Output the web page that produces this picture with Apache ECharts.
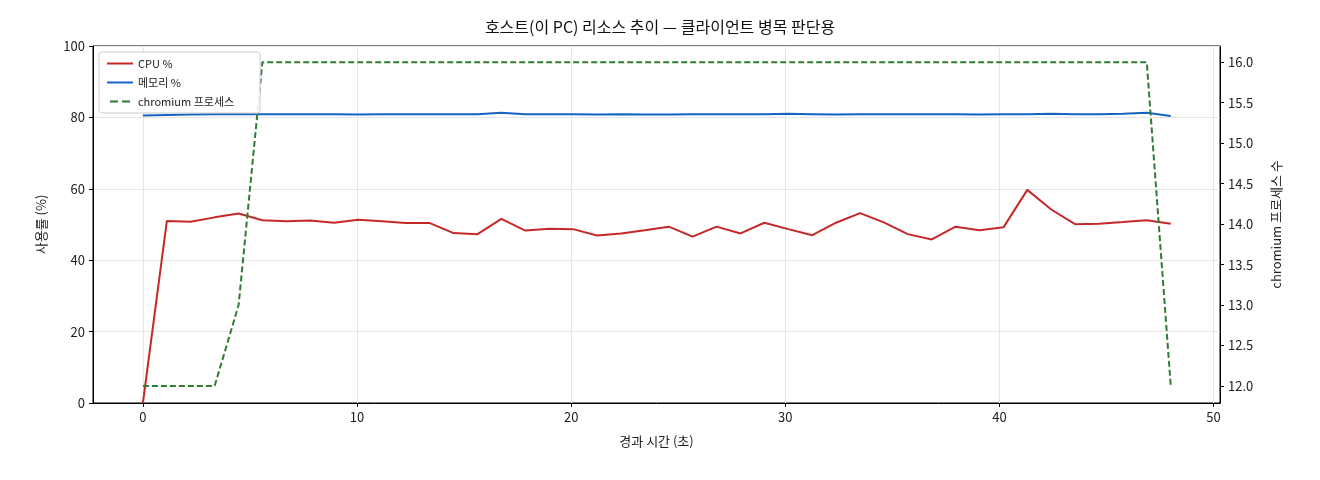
<!DOCTYPE html><html><head><meta charset="utf-8"><script src="https://cdn.jsdelivr.net/npm/echarts@6/dist/echarts.min.js"></script></head><body style="margin:0"><div id="c" style="width:1320px;height:480px"></div><script>
const times=[0,1.12,2.23,3.35,4.47,5.58,6.70,7.81,8.93,10.05,11.16,12.28,13.40,14.51,15.63,16.74,17.86,18.98,20.09,21.21,22.33,23.44,24.56,25.67,26.79,27.91,29.02,30.14,31.26,32.37,33.49,34.60,35.72,36.84,37.95,39.07,40.19,41.30,42.42,43.53,44.65,45.77,46.88,48.00];
const cpu=[0,51.0,50.8,52.0,53.1,51.2,50.9,51.1,50.5,51.3,50.9,50.4,50.4,47.6,47.3,51.6,48.3,48.8,48.7,46.9,47.5,48.4,49.4,46.6,49.4,47.5,50.5,48.7,47.0,50.5,53.2,50.6,47.3,45.8,49.4,48.4,49.2,59.7,54.2,50.1,50.2,50.7,51.2,50.2];
const mem=[80.5,80.7,80.8,80.9,80.9,80.9,80.9,80.9,80.9,80.8,80.9,80.9,80.9,80.9,80.9,81.3,80.9,80.9,80.9,80.8,80.9,80.8,80.8,80.9,80.9,80.9,80.9,81.0,80.9,80.8,80.9,80.9,80.9,80.9,80.9,80.8,80.9,80.9,81.0,80.9,80.9,81.0,81.3,80.4];
const chrom=[12,12,12,12,13,16,16,16,16,16,16,16,16,16,16,16,16,16,16,16,16,16,16,16,16,16,16,16,16,16,16,16,16,16,16,16,16,16,16,16,16,16,16,12];
const xTicks=[0,10,20,30,40,50];
const rTicks=[12,12.5,13,13.5,14,14.5,15,15.5,16];
const pair=a=>times.map((t,i)=>[t,a[i]]);
const F='"Noto Sans CJK KR","DejaVu Sans",sans-serif';
const ax={axisLine:{lineStyle:{color:'#000'}},axisTick:{lineStyle:{color:'#000'},length:4},axisLabel:{color:'#222',fontSize:13,fontFamily:F},nameTextStyle:{color:'#222',fontSize:13,fontFamily:F}};
echarts.init(document.getElementById('c')).setOption({
animation:false,
title:{text:'호스트(이 PC) 리소스 추이 — 클라이언트 병목 판단용',left:'center',top:14,textStyle:{fontSize:16,fontWeight:'normal',color:'#111',fontFamily:F}},
grid:{left:93,right:100,top:46,bottom:77,show:true,borderColor:'#000',borderWidth:1},
legend:{left:99,top:52,orient:'vertical',itemGap:8,itemWidth:26,itemHeight:2,backgroundColor:'rgba(255,255,255,0.9)',borderColor:'#ccc',borderWidth:1,borderRadius:3,padding:[6,26,6,8],textStyle:{fontSize:11,fontFamily:F,color:'#222'},data:[{name:'CPU %',icon:'rect'},{name:'메모리 %',icon:'rect'},{name:'chromium 프로세스',icon:'path://M0,0H8V2H0Z M12,0H20V2H12Z'}]},
xAxis:Object.assign({},ax,{type:'value',min:-2.33,max:50.3,name:'경과 시간 (초)',nameLocation:'middle',nameGap:32,axisLine:{onZero:false,lineStyle:{color:'#000'}},axisTick:{lineStyle:{color:'#000'},length:4,customValues:xTicks},axisLabel:Object.assign({},ax.axisLabel,{customValues:xTicks}),splitLine:{show:true,lineStyle:{color:'#e6e6e6'}}}),
yAxis:[Object.assign({},ax,{type:'value',min:0,max:100,interval:20,name:'사용률 (%)',nameLocation:'middle',nameGap:45,axisLine:{show:true,onZero:false,lineStyle:{color:'#000'}},axisTick:{show:true,length:4,lineStyle:{color:'#000'}},splitLine:{lineStyle:{color:'#e6e6e6'}}}),
Object.assign({},ax,{type:'value',min:11.79,max:16.2,name:'chromium 프로세스 수',nameLocation:'middle',nameGap:50,nameRotate:90,axisLine:{show:true,onZero:false,lineStyle:{color:'#000'}},axisTick:{show:true,length:4,lineStyle:{color:'#000'},customValues:rTicks},axisLabel:Object.assign({},ax.axisLabel,{customValues:rTicks,formatter:v=>v.toFixed(1)}),splitLine:{show:false}})],
series:[
{name:'CPU %',type:'line',data:pair(cpu),symbol:'none',lineStyle:{color:'#c62828',width:2},itemStyle:{color:'#c62828'}},
{name:'메모리 %',type:'line',data:pair(mem),symbol:'none',lineStyle:{color:'#1565c0',width:2},itemStyle:{color:'#1565c0'}},
{name:'chromium 프로세스',type:'line',yAxisIndex:1,data:pair(chrom),symbol:'none',lineStyle:{color:'#2e7d32',width:2,type:[6,3]},itemStyle:{color:'#2e7d32'}}
]});
</script></body></html>
